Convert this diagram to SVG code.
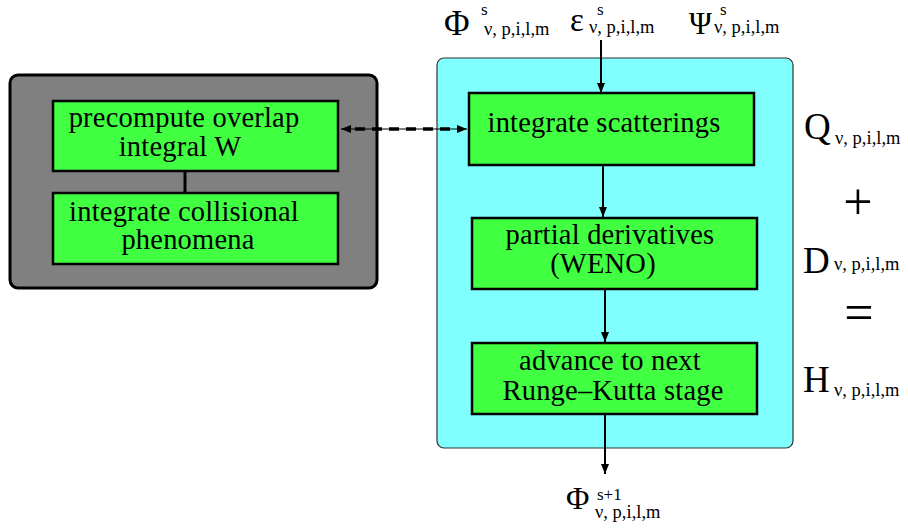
<svg xmlns="http://www.w3.org/2000/svg" width="908" height="529" viewBox="0 0 908 529">
<style>
text{font-family:"Liberation Serif","Times New Roman",serif;fill:#000}
.bt{font-size:28.5px;text-anchor:middle;letter-spacing:0.2px}
.big{font-size:37px}
.sub{font-size:18.5px}
.sup{font-size:17px}
.box{fill:#41ff41;stroke:#000;stroke-width:2.5}
.ln{stroke:#000;stroke-width:2;fill:none}
</style>
<defs>
<marker id="ah" viewBox="0 0 10 8" refX="10" refY="4" markerWidth="10" markerHeight="8" markerUnits="userSpaceOnUse" orient="auto-start-reverse">
<path d="M0,0 L10,4 L0,8 Z" fill="#000"/>
</marker>
</defs>
<g id="bg-gray"><rect x="10" y="75" width="367" height="213" rx="8" fill="#808080" stroke="#000" stroke-width="3"/></g>
<g id="bg-cyan"><rect x="437" y="58" width="356" height="390" rx="7" fill="#80ffff" stroke="#333" stroke-width="1.2"/></g>
<g id="connectors">
<line class="ln" x1="601" y1="40" x2="601" y2="93" marker-end="url(#ah)"/>
<line class="ln" x1="603" y1="165" x2="603" y2="217" marker-end="url(#ah)"/>
<line class="ln" x1="605" y1="290" x2="605" y2="342" marker-end="url(#ah)"/>
<line class="ln" x1="605" y1="414" x2="605" y2="474" marker-end="url(#ah)"/>
<line x1="185" y1="171" x2="185" y2="193" stroke="#000" stroke-width="3"/>
<line x1="341" y1="129" x2="467" y2="129" stroke="#000" stroke-width="1" marker-start="url(#ah)" marker-end="url(#ah)"/>
<line x1="355" y1="129" x2="458" y2="129" stroke="#000" stroke-width="3.5" stroke-dasharray="10 7"/>
</g>
<g id="n-precompute"><rect class="box" x="53" y="101" width="285" height="70"/>
<text class="bt" x="184" y="127">precompute overlap</text><text class="bt" x="180" y="156">integral W</text></g>
<g id="n-collisional"><rect class="box" x="53" y="193" width="285" height="71"/>
<text class="bt" x="184" y="221">integrate collisional</text><text class="bt" x="188" y="249">phenomena</text></g>
<g id="n-scatter"><rect class="box" x="469" y="93" width="285" height="72"/>
<text class="bt" x="604" y="132">integrate scatterings</text></g>
<g id="n-weno"><rect class="box" x="472" y="218" width="285" height="71"/>
<text class="bt" x="610" y="244">partial derivatives</text><text class="bt" x="603" y="273">(WENO)</text></g>
<g id="n-rk"><rect class="box" x="472" y="343" width="285" height="71"/>
<text class="bt" x="610" y="370">advance to next</text><text class="bt" x="613" y="400">Runge–Kutta stage</text></g>
<g id="top-labels">
<text x="444" y="35" font-size="35">Φ</text><text class="sup" x="481" y="15">s</text><text class="sub" x="484" y="35">ν, p,i,l,m</text>
<text x="570" y="31" font-size="33">ε</text><text class="sup" x="597" y="15">s</text><text class="sub" x="589" y="33">ν, p,i,l,m</text>
<text x="689" y="34" font-size="31">Ψ</text><text class="sup" x="720" y="15">s</text><text class="sub" x="714" y="33">ν, p,i,l,m</text>
</g>
<g id="right-labels">
<text class="big" x="804" y="139">Q</text><text class="sub" x="835" y="144">ν, p,i,l,m</text>
<text x="858" y="219" font-size="52" text-anchor="middle">+</text>
<text class="big" x="803" y="273">D</text><text class="sub" x="834" y="270">ν, p,i,l,m</text>
<text x="859" y="330" font-size="52" text-anchor="middle">=</text>
<text class="big" x="803" y="392">H</text><text class="sub" x="834" y="396">ν, p,i,l,m</text>
</g>
<g id="bottom-label">
<text x="566" y="509" font-size="32">Φ</text><text class="sup" x="597" y="500">s+1</text><text class="sub" x="595" y="518">ν, p,i,l,m</text>
</g>
</svg>
